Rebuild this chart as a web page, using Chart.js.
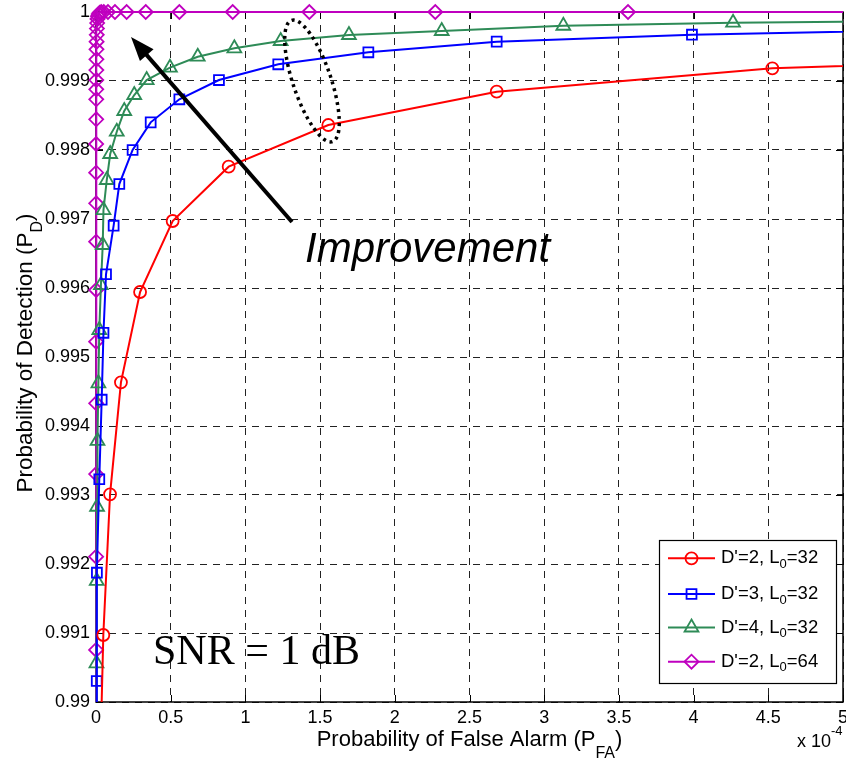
<!DOCTYPE html>
<html>
<head>
<meta charset="utf-8">
<script src="https://cdn.jsdelivr.net/npm/chart.js@4.4.0/dist/chart.umd.min.js"></script>
<style>
	html, body { margin: 0; padding: 0; background: #fff; }
	canvas { display: block; }
</style>
</head>
<body>
<canvas id="graficoRoc" width="846" height="761"></canvas>
<script>
// eixos
var xTicks = [0, 0.5, 1, 1.5, 2, 2.5, 3, 3.5, 4, 4.5, 5];
var yTicks = [0.99, 0.991, 0.992, 0.993, 0.994, 0.995, 0.996, 0.997, 0.998, 0.999, 1];

// PFA em unidades de 1e-4, PD
var redX = [0.03, 0.049, 0.094, 0.167, 0.295, 0.513, 0.888, 1.555, 2.682, 4.527, 7.8];
var redY = [0.9893, 0.990971, 0.993010, 0.994633, 0.995942, 0.996971, 0.997758, 0.998362, 0.998845, 0.999184, 0.99942];

var blueX = [0.003, 0.005, 0.006, 0.022, 0.038, 0.050, 0.067, 0.118, 0.156, 0.245, 0.366, 0.558, 0.823, 1.220, 1.823, 2.682, 3.989, 5.9];
var blueY = [0.9893, 0.990304, 0.991874, 0.993228, 0.994381, 0.995351, 0.996199, 0.996903, 0.997507, 0.998000, 0.998401, 0.998735, 0.999014, 0.999242, 0.999416, 0.999570, 0.999671, 0.99975];

var greenX = [0.002, 0.003, 0.005, 0.007, 0.010, 0.016, 0.022, 0.033, 0.045, 0.050, 0.072, 0.095, 0.139, 0.189, 0.256, 0.339, 0.495, 0.681, 0.926, 1.236, 1.693, 2.314, 3.128, 4.264, 5.8];
var greenY = [0.9893, 0.990561, 0.991754, 0.992830, 0.993783, 0.994619, 0.995391, 0.996043, 0.996623, 0.997130, 0.997565, 0.997942, 0.998265, 0.998565, 0.998797, 0.999014, 0.999193, 0.999352, 0.999474, 0.999580, 0.999667, 0.999725, 0.999801, 0.999845, 0.99987];

var magentaX = [0.0008, 0.0008, 0.0008, 0.0008, 0.0009, 0.0009, 0.0010, 0.0010, 0.0011, 0.0012, 0.0013, 0.0014, 0.0016, 0.0018, 0.0020, 0.0023, 0.0027, 0.0032, 0.0040, 0.0050, 0.0062, 0.0078, 0.0100, 0.0130, 0.0180, 0.0250, 0.035, 0.052, 0.080, 0.127, 0.205, 0.333, 0.558, 0.915, 1.428, 2.271, 3.561, 5.7];
var magentaY = [0.9893, 0.990754, 0.992106, 0.993304, 0.994329, 0.995222, 0.995971, 0.996671, 0.997228, 0.997671, 0.998087, 0.998445, 0.998735, 0.998880, 0.999014, 0.999159, 0.999314, 0.999459, 0.99957, 0.99967, 0.99976, 0.99984, 0.99990, 0.99994, 0.99997, 0.99999, 1, 1, 1, 1, 1, 1, 1, 1, 1, 1, 1, 1];

// legenda: texto, subscrito, final
var legendMain = ["D'=2, L", "D'=3, L", "D'=4, L", "D'=2, L"];
var legendSub = ['0', '0', '0', '0'];
var legendTail = ['=32', '=32', '=32', '=64'];

var FONTE = '"Liberation Sans", Arial, sans-serif';

function serie(xs, ys) {
	return xs.map(function(x, i) { return {x: x, y: ys[i]}; });
}

function dataset(xs, ys, cor, estilo, raio) {
	return {
		data: serie(xs, ys),
		borderColor: cor,
		backgroundColor: cor,
		borderWidth: 2,
		pointStyle: estilo,
		pointRadius: raio,
		pointHoverRadius: raio,
		pointBorderColor: cor,
		pointBackgroundColor: 'rgba(0,0,0,0)',
		pointBorderWidth: 1.8,
		showLine: true,
		tension: 0,
		clip: {left: 12, top: 12, right: 0, bottom: 0}
	};
}

function desenhaMarcador(ctx, estilo, x, y, r) {
	ctx.beginPath();
	if (estilo === 'circle') {
		ctx.arc(x, y, r, 0, Math.PI * 2);
	} else if (estilo === 'rect') {
		var s = Math.SQRT1_2 * r;
		ctx.rect(x - s, y - s, 2 * s, 2 * s);
	} else if (estilo === 'triangle') {
		ctx.moveTo(x, y - r);
		ctx.lineTo(x + Math.sin(2 * Math.PI / 3) * r, y + r / 2);
		ctx.lineTo(x - Math.sin(2 * Math.PI / 3) * r, y + r / 2);
		ctx.closePath();
	} else {
		ctx.moveTo(x - r, y);
		ctx.lineTo(x, y - r);
		ctx.lineTo(x + r, y);
		ctx.lineTo(x, y + r);
		ctx.closePath();
	}
	ctx.stroke();
}

var molduraPlugin = {
	id: 'moldura',
	beforeDraw: function(chart) {
		var ctx = chart.ctx;
		ctx.save();
		ctx.fillStyle = '#fff';
		ctx.fillRect(0, 0, chart.width, chart.height);
		ctx.restore();
	},
	beforeDatasetsDraw: function(chart) {
		var ctx = chart.ctx, a = chart.chartArea;
		var sx = chart.scales.x, sy = chart.scales.y;
		ctx.save();
		ctx.strokeStyle = '#000';
		ctx.lineWidth = 1;
		// marcas internas
		xTicks.forEach(function(v) {
			var px = Math.round(sx.getPixelForValue(v)) + 0.5;
			ctx.beginPath();
			ctx.moveTo(px, a.bottom); ctx.lineTo(px, a.bottom - 7);
			ctx.moveTo(px, a.top); ctx.lineTo(px, a.top + 7);
			ctx.stroke();
		});
		yTicks.forEach(function(v) {
			var py = Math.round(sy.getPixelForValue(v)) + 0.5;
			ctx.beginPath();
			ctx.moveTo(a.left, py); ctx.lineTo(a.left + 7, py);
			ctx.moveTo(a.right, py); ctx.lineTo(a.right - 7, py);
			ctx.stroke();
		});
		ctx.lineWidth = 1.5;
		ctx.strokeRect(a.left, a.top, a.right - a.left, a.bottom - a.top);
		ctx.restore();
	},
	afterDatasetsDraw: function(chart) {
		var ctx = chart.ctx, a = chart.chartArea;
		ctx.save();

		// elipse pontilhada
		ctx.strokeStyle = '#000';
		ctx.lineWidth = 3.5;
		ctx.setLineDash([3, 4]);
		ctx.beginPath();
		ctx.ellipse(312, 81, 19, 64, -0.326, 0, Math.PI * 2);
		ctx.stroke();
		ctx.setLineDash([]);

		// seta
		var tx = 131, ty = 37, bx = 292, by = 222;
		var ang = Math.atan2(ty - by, tx - bx);
		var hl = 24, hw = 9;
		var baseX = tx - Math.cos(ang) * hl, baseY = ty - Math.sin(ang) * hl;
		ctx.lineWidth = 4;
		ctx.beginPath();
		ctx.moveTo(bx, by);
		ctx.lineTo(baseX + Math.cos(ang) * 2, baseY + Math.sin(ang) * 2);
		ctx.stroke();
		ctx.fillStyle = '#000';
		ctx.beginPath();
		ctx.moveTo(tx, ty);
		ctx.lineTo(baseX - Math.sin(ang) * hw, baseY + Math.cos(ang) * hw);
		ctx.lineTo(baseX + Math.sin(ang) * hw, baseY - Math.cos(ang) * hw);
		ctx.closePath();
		ctx.fill();

		// textos
		ctx.textBaseline = 'alphabetic';
		ctx.textAlign = 'left';
		ctx.font = 'italic 42px ' + FONTE;
		ctx.fillText('Improvement', 305, 262);
		ctx.font = '42px "Liberation Serif", "Times New Roman", serif';
		ctx.fillText('SNR = 1 dB', 153, 664);

		// legenda
		var lx = 659.5, ly = 540.5, lw = 177, lh = 143;
		ctx.fillStyle = '#fff';
		ctx.fillRect(lx, ly, lw, lh);
		ctx.strokeStyle = '#000';
		ctx.lineWidth = 1.2;
		ctx.strokeRect(lx, ly, lw, lh);
		var linhas = [558.3, 594, 627.5, 661.7];
		chart.data.datasets.forEach(function(ds, i) {
			var y = linhas[i];
			ctx.strokeStyle = ds.borderColor;
			ctx.lineWidth = 2;
			ctx.beginPath();
			ctx.moveTo(668, y); ctx.lineTo(715, y);
			ctx.stroke();
			ctx.lineWidth = 1.8;
			desenhaMarcador(ctx, ds.pointStyle, 691.5, y, ds.pointRadius);
			ctx.fillStyle = '#000';
			ctx.textBaseline = 'middle';
			ctx.font = '18.5px ' + FONTE;
			var x = 721;
			ctx.fillText(legendMain[i], x, y);
			x += ctx.measureText(legendMain[i]).width;
			ctx.font = '13px ' + FONTE;
			ctx.fillText(legendSub[i], x, y + 6);
			x += ctx.measureText(legendSub[i]).width;
			ctx.font = '18.5px ' + FONTE;
			ctx.fillText(legendTail[i], x, y);
		});

		// titulos dos eixos
		ctx.fillStyle = '#000';
		ctx.textBaseline = 'alphabetic';
		var t1 = 'Probability of False Alarm (P', s1 = 'FA', f1 = ')';
		ctx.font = '22px ' + FONTE;
		var w1 = ctx.measureText(t1).width, w3 = ctx.measureText(f1).width;
		ctx.font = '16px ' + FONTE;
		var w2 = ctx.measureText(s1).width;
		var x0 = (a.left + a.right) / 2 - (w1 + w2 + w3) / 2;
		ctx.font = '22px ' + FONTE;
		ctx.fillText(t1, x0, 746);
		ctx.font = '16px ' + FONTE;
		ctx.fillText(s1, x0 + w1, 758);
		ctx.font = '22px ' + FONTE;
		ctx.fillText(f1, x0 + w1 + w2, 746);

		var t2 = 'Probability of Detection (P', s2 = 'D', f2 = ')';
		ctx.font = '22.5px ' + FONTE;
		var v1 = ctx.measureText(t2).width, v3 = ctx.measureText(f2).width;
		ctx.font = '16px ' + FONTE;
		var v2 = ctx.measureText(s2).width;
		ctx.translate(32, 353);
		ctx.rotate(-Math.PI / 2);
		var y0 = -(v1 + v2 + v3) / 2;
		ctx.font = '22.5px ' + FONTE;
		ctx.fillText(t2, y0, 0);
		ctx.font = '16px ' + FONTE;
		ctx.fillText(s2, y0 + v1, 10);
		ctx.font = '22.5px ' + FONTE;
		ctx.fillText(f2, y0 + v1 + v2, 0);
		ctx.setTransform(1, 0, 0, 1, 0, 0);

		// fator de escala
		ctx.font = '18px ' + FONTE;
		ctx.fillText('x 10', 797, 747);
		ctx.font = '13px ' + FONTE;
		ctx.fillText('-4', 831, 735);
		ctx.restore();
	}
};

var graficoRoc = new Chart(document.getElementById('graficoRoc').getContext('2d'), {
	type: 'scatter',
	data: {
		datasets: [
			dataset(redX, redY, '#ff0000', 'circle', 6),
			dataset(blueX, blueY, '#0000ff', 'rect', 7),
			dataset(greenX, greenY, '#2e8b57', 'triangle', 8),
			dataset(magentaX, magentaY, '#bf00bf', 'rectRot', 7)
		]
	},
	options: {
		responsive: false,
		animation: false,
		layout: { autoPadding: false, padding: { left: 0, top: 12, right: 3, bottom: 0 } },
		plugins: { legend: { display: false }, tooltip: { enabled: false } },
		scales: {
			x: {
				type: 'linear', min: 0, max: 5,
				afterBuildTicks: function(s) { s.ticks = xTicks.map(function(v) { return {value: v}; }); },
				afterFit: function(s) { s.height = 59; s.paddingLeft = 0; s.paddingRight = 0; },
				ticks: { color: '#000', padding: 5, maxRotation: 0, autoSkip: false,
					font: { family: FONTE, size: 18 },
					callback: function(v) { return String(v); } },
				grid: { color: '#222', lineWidth: 1, drawTicks: false },
				border: { display: false, dash: [7, 6] }
			},
			y: {
				type: 'linear', min: 0.99, max: 1,
				afterBuildTicks: function(s) { s.ticks = yTicks.map(function(v) { return {value: v}; }); },
				afterFit: function(s) { s.width = 96; s.paddingTop = 0; s.paddingBottom = 0; },
				ticks: { color: '#000', padding: 6, autoSkip: false,
					font: { family: FONTE, size: 18 },
					callback: function(v) { return String(v); } },
				grid: { color: '#222', lineWidth: 1, drawTicks: false },
				border: { display: false, dash: [7, 6] }
			}
		}
	},
	plugins: [molduraPlugin]
});
</script>
</body>
</html>
